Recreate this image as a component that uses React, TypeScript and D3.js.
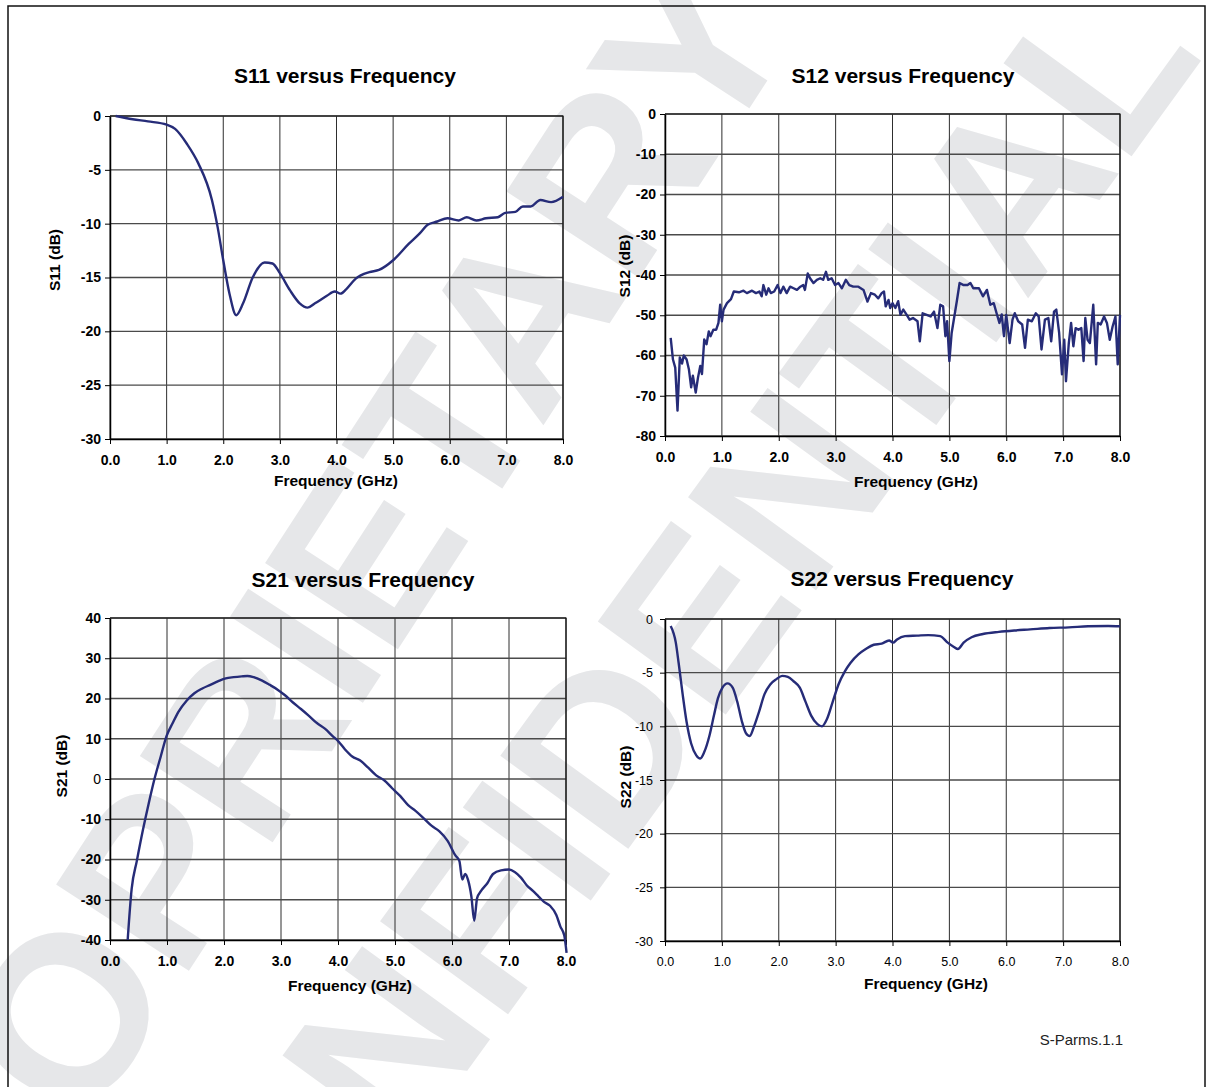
import React, { useEffect, useRef } from 'react';
import * as d3 from 'd3';

type Pt = [number, number]; // [GHz, dB]

// Tick values
const freqTicks = [0, 1, 2, 3, 4, 5, 6, 7, 8];
const s11Ticks = [0, -5, -10, -15, -20, -25, -30];
const s12Ticks = [0, -10, -20, -30, -40, -50, -60, -70, -80];
const s21Ticks = [40, 30, 20, 10, 0, -10, -20, -30, -40];
const s22Ticks = [0, -5, -10, -15, -20, -25, -30];

const s11Points: Pt[] = [
  [0.1, 0], [0.4, -0.3], [0.67, -0.5], [1.0, -0.8], [1.15, -1.2], [1.36, -2.6], [1.56, -4.4],
  [1.8, -7.8], [1.9, -10.3], [2.0, -13.4], [2.11, -16.5], [2.23, -18.5], [2.35, -17.4],
  [2.52, -15.0], [2.73, -13.6], [2.87, -13.7], [3.0, -14.6], [3.18, -16.2], [3.35, -17.4],
  [3.49, -17.8], [3.62, -17.4], [3.83, -16.7], [3.97, -16.3], [4.07, -16.5], [4.17, -16.1],
  [4.34, -15.1], [4.58, -14.5], [4.75, -14.3], [5.0, -13.4], [5.27, -11.9], [5.47, -10.9],
  [5.61, -10.1], [5.78, -9.8], [5.96, -9.5], [6.16, -9.7], [6.3, -9.4], [6.47, -9.7],
  [6.64, -9.5], [6.85, -9.4], [6.98, -9.0], [7.16, -8.9], [7.29, -8.4], [7.43, -8.4],
  [7.6, -7.8], [7.79, -8.0], [8.0, -7.5],
];

const s12Points: Pt[] = [
  [0.10, -55.6], [0.14, -61], [0.18, -63], [0.22, -73.7], [0.26, -60.5], [0.30, -62], [0.33, -60],
  [0.38, -61], [0.42, -63.4], [0.46, -67.9], [0.49, -65], [0.54, -69.2], [0.58, -65.5],
  [0.62, -62.6], [0.65, -64.6], [0.69, -56], [0.73, -57.2], [0.77, -54], [0.80, -55.2],
  [0.85, -53.6], [0.90, -53.6], [0.94, -51.9], [0.97, -47.4], [1.00, -51.5], [1.03, -48.6],
  [1.09, -47], [1.16, -46], [1.21, -44.1], [1.30, -44.3], [1.38, -43.9], [1.44, -44.5],
  [1.53, -43.9], [1.60, -44.5], [1.66, -44.1], [1.70, -45.3], [1.73, -42.5], [1.78, -44.9],
  [1.82, -43.3], [1.86, -44.5], [1.92, -44.1], [1.98, -42.5], [2.03, -44.5], [2.08, -42.9],
  [2.14, -44.5], [2.20, -42.9], [2.26, -43.3], [2.32, -43.7], [2.38, -42.9], [2.43, -42.5],
  [2.46, -43.7], [2.51, -39.6], [2.55, -40.8], [2.61, -42], [2.67, -41.2], [2.73, -40.8],
  [2.78, -41.2], [2.83, -39.2], [2.87, -41.2], [2.93, -40.8], [2.99, -42.5], [3.05, -42],
  [3.11, -43.3], [3.18, -41.2], [3.24, -42.5], [3.31, -42.9], [3.40, -42.9], [3.49, -43.7],
  [3.56, -46.6], [3.62, -44.5], [3.69, -44.9], [3.75, -45.8], [3.81, -44.5], [3.85, -44.1],
  [3.88, -47.8], [3.93, -46.2], [3.96, -48.2], [4.00, -47], [4.05, -48.2], [4.10, -46.5],
  [4.14, -49.9], [4.19, -48.6], [4.25, -49.9], [4.30, -51.1], [4.36, -50.7], [4.44, -51.5],
  [4.48, -56.5], [4.53, -49.5], [4.60, -49.9], [4.67, -50.3], [4.73, -49.1], [4.79, -53.2],
  [4.84, -47.4], [4.89, -47.8], [4.93, -55.2], [4.96, -51.5], [5.00, -61.4], [5.04, -54.4],
  [5.13, -46.6], [5.18, -42], [5.25, -42.5], [5.32, -42.5], [5.37, -42], [5.42, -43.3],
  [5.52, -43.3], [5.59, -45.3], [5.66, -43.7], [5.72, -47.4], [5.78, -47], [5.83, -49.5],
  [5.88, -51.9], [5.92, -49.8], [5.96, -55.2], [6.00, -49.9], [6.06, -56.9], [6.11, -51.1],
  [6.15, -49.5], [6.21, -51.5], [6.28, -52.3], [6.33, -58.1], [6.38, -51.1], [6.45, -51.5],
  [6.52, -49.5], [6.57, -50.3], [6.62, -58.5], [6.68, -51.1], [6.74, -50.7], [6.79, -56.5],
  [6.84, -49.1], [6.88, -48.6], [6.93, -54.4], [6.98, -64.7], [7.02, -56.1], [7.05, -66.4],
  [7.10, -56.9], [7.14, -51.9], [7.18, -57.7], [7.22, -53.2], [7.27, -53.6], [7.32, -53.2],
  [7.36, -61.4], [7.39, -50.7], [7.43, -56.1], [7.47, -56.9], [7.53, -47.4], [7.58, -62.2],
  [7.61, -51.9], [7.66, -52.3], [7.72, -50.3], [7.77, -51.9], [7.82, -56.1], [7.87, -52.8],
  [7.92, -50.3], [7.96, -62.2], [8.00, -49.9],
];

const s21Points: Pt[] = [
  [0.31, -40], [0.38, -27.3], [0.47, -20.4], [0.58, -12.5], [0.68, -6.0], [0.78, 0],
  [0.89, 5.6], [0.99, 10.6], [1.10, 13.9], [1.20, 16.7], [1.34, 19.4], [1.48, 21.3],
  [1.62, 22.5], [1.76, 23.4], [1.90, 24.3], [2.03, 25.0], [2.17, 25.3], [2.31, 25.5],
  [2.41, 25.6], [2.52, 25.3], [2.66, 24.5], [2.80, 23.4], [2.94, 22.2], [3.07, 20.8],
  [3.21, 19.0], [3.35, 17.4], [3.49, 15.7], [3.63, 13.9], [3.77, 12.5], [3.91, 10.6],
  [4.01, 9.3], [4.12, 7.4], [4.25, 5.6], [4.39, 4.6], [4.53, 2.8], [4.67, 0.9], [4.81, -0.3],
  [4.95, -2.3], [5.09, -4.2], [5.23, -6.5], [5.36, -7.9], [5.50, -9.7], [5.64, -11.6],
  [5.78, -13.0], [5.92, -15.3], [6.06, -19.0], [6.13, -20.4], [6.18, -25.0], [6.23, -23.6],
  [6.28, -25.0], [6.34, -29.2], [6.39, -35.2], [6.44, -29.6], [6.51, -27.8], [6.62, -25.9],
  [6.72, -23.6], [6.86, -22.7], [7.00, -22.5], [7.10, -23.1], [7.21, -24.5], [7.31, -26.4],
  [7.42, -27.8], [7.52, -29.2], [7.62, -30.6], [7.72, -31.5], [7.83, -33.8], [7.90, -36.6],
  [7.97, -38.9], [8.01, -43.2],
];

const s22Points: Pt[] = [
  [0.10, -0.65], [0.19, -2.2], [0.24, -4.1], [0.31, -7.0], [0.38, -9.6], [0.46, -11.6],
  [0.55, -12.7], [0.62, -13.0], [0.69, -12.4], [0.78, -10.9], [0.86, -9.0], [0.93, -7.4],
  [1.01, -6.4], [1.10, -6.0], [1.19, -6.4], [1.27, -7.7], [1.35, -9.5], [1.42, -10.6],
  [1.49, -10.9], [1.56, -10.1], [1.65, -8.7], [1.75, -7.0], [1.85, -6.1], [1.96, -5.6],
  [2.06, -5.3], [2.16, -5.4], [2.26, -5.8], [2.37, -6.4], [2.47, -7.7], [2.57, -9.0],
  [2.68, -9.8], [2.76, -10.0], [2.85, -9.3], [2.95, -7.7], [3.05, -6.1], [3.16, -4.9],
  [3.26, -4.1], [3.40, -3.3], [3.53, -2.8], [3.67, -2.4], [3.81, -2.3], [3.94, -2.0],
  [4.01, -2.2], [4.08, -1.9], [4.22, -1.6], [4.43, -1.55], [4.63, -1.5], [4.84, -1.6],
  [4.97, -2.2], [5.08, -2.6], [5.15, -2.8], [5.25, -2.2], [5.39, -1.7], [5.59, -1.4],
  [5.87, -1.2], [6.14, -1.07], [6.42, -0.97], [6.76, -0.84], [7.10, -0.78], [7.44, -0.68],
  [7.79, -0.65], [8.0, -0.68],
];

interface Panel {
  title: string;
  yLabel: string;
  points: Pt[];
  yTicks: number[];
  box: { left: number; right: number; top: number; bottom: number };
  titleAt: [number, number];
  xLabelAt: [number, number];
  yLabelAt: [number, number];
  smooth: boolean;
  tickFont: number;
  tickWeight: string;
}

const panels: Panel[] = [
  {
    title: 'S11 versus Frequency', yLabel: 'S11 (dB)', points: s11Points, yTicks: s11Ticks,
    box: { left: 110, right: 563, top: 116, bottom: 439 },
    titleAt: [345, 76], xLabelAt: [336, 481], yLabelAt: [55, 260],
    smooth: true, tickFont: 14, tickWeight: 'bold',
  },
  {
    title: 'S12 versus Frequency', yLabel: 'S12 (dB)', points: s12Points, yTicks: s12Ticks,
    box: { left: 665, right: 1120, top: 114, bottom: 436 },
    titleAt: [903, 76], xLabelAt: [916, 482], yLabelAt: [625, 266],
    smooth: false, tickFont: 14, tickWeight: 'bold',
  },
  {
    title: 'S21 versus Frequency', yLabel: 'S21 (dB)', points: s21Points, yTicks: s21Ticks,
    box: { left: 110, right: 566, top: 618, bottom: 940 },
    titleAt: [363, 580], xLabelAt: [350, 986], yLabelAt: [62, 766],
    smooth: true, tickFont: 14, tickWeight: 'bold',
  },
  {
    title: 'S22 versus Frequency', yLabel: 'S22 (dB)', points: s22Points, yTicks: s22Ticks,
    box: { left: 665, right: 1120, top: 619, bottom: 941 },
    titleAt: [902, 579], xLabelAt: [926, 984], yLabelAt: [626, 777],
    smooth: true, tickFont: 12.5, tickWeight: 'normal',
  },
];

const FONT = '"Liberation Sans", Arial, Helvetica, sans-serif';
const LINE_COLOR = '#262c78';

const App: React.FC = () => {
  const svgRef = useRef<SVGSVGElement>(null);

  useEffect(() => {
    if (!svgRef.current) return;
    const svg = d3.select(svgRef.current);
    svg.selectAll('*').remove();

    // Watermark
    const wm = svg
      .append('g')
      .attr('fill', '#e6e7e9')
      .style('font-family', FONT)
      .style('font-weight', 'bold')
      .style('font-size', '230px');
    wm.append('text')
      .attr('transform', 'translate(800,30) rotate(-57)')
      .attr('text-anchor', 'end')
      .text('PROPRIETARY');
    wm.append('text')
      .attr('transform', 'translate(1205,55) rotate(-54)')
      .attr('text-anchor', 'end')
      .text('CONFIDENTIAL');

    // Page frame
    svg
      .append('rect')
      .attr('x', 8)
      .attr('y', 6)
      .attr('width', 1197)
      .attr('height', 1120)
      .attr('fill', 'none')
      .attr('stroke', '#111')
      .attr('stroke-width', 1.5);

    panels.forEach(p => {
      const { left, right, top, bottom } = p.box;
      const yExtent = d3.extent(p.yTicks) as [number, number];
      const x = d3.scaleLinear().domain([0, 8]).range([left, right]);
      const y = d3.scaleLinear().domain(yExtent).range([bottom, top]);
      const g = svg.append('g');

      // Grid lines
      g.append('g')
        .selectAll('line')
        .data(freqTicks)
        .join('line')
        .attr('x1', d => x(d))
        .attr('x2', d => x(d))
        .attr('y1', top)
        .attr('y2', bottom)
        .attr('stroke', '#2e2e2e')
        .attr('stroke-width', 1);

      g.append('g')
        .selectAll('line')
        .data(p.yTicks)
        .join('line')
        .attr('x1', left)
        .attr('x2', right)
        .attr('y1', d => y(d))
        .attr('y2', d => y(d))
        .attr('stroke', '#4a4a4a')
        .attr('stroke-width', 1.3);

      // X axis
      const xAxis = g
        .append('g')
        .attr('transform', `translate(0,${bottom})`)
        .call(
          d3
            .axisBottom(x)
            .tickValues(freqTicks)
            .tickSize(5)
            .tickSizeOuter(0)
            .tickPadding(11)
            .tickFormat(d => d3.format('.1f')(d as number))
        );
      xAxis.select('.domain').attr('stroke', '#000').attr('stroke-width', 1.5);
      xAxis.selectAll('line').attr('stroke', '#000');
      xAxis
        .selectAll('text')
        .attr('fill', '#000')
        .style('font-family', FONT)
        .style('font-size', `${p.tickFont}px`)
        .style('font-weight', p.tickWeight);

      // Y axis
      const yAxis = g
        .append('g')
        .attr('transform', `translate(${left},0)`)
        .call(
          d3
            .axisLeft(y)
            .tickValues(p.yTicks)
            .tickSize(5)
            .tickSizeOuter(0)
            .tickPadding(p.tickWeight === 'bold' ? 4 : 7)
            .tickFormat(d => String(d))
        );
      yAxis.select('.domain').attr('stroke', '#000').attr('stroke-width', 1.5);
      yAxis.selectAll('line').attr('stroke', '#000');
      yAxis
        .selectAll<SVGTextElement, number>('text')
        .attr('fill', '#000')
        .style('font-family', FONT)
        .style('font-size', `${p.tickFont}px`)
        .style('font-weight', d => (d === 0 && p.yLabel.startsWith('S21') ? 'normal' : p.tickWeight));

      // Top / right frame
      g.append('path')
        .attr('d', `M${left},${top}H${right}V${bottom}`)
        .attr('fill', 'none')
        .attr('stroke', '#111')
        .attr('stroke-width', 1.2);

      // Trace
      const line = d3
        .line<Pt>()
        .x(d => x(d[0]))
        .y(d => y(d[1]))
        .curve(p.smooth ? d3.curveMonotoneX : d3.curveLinear);

      g.append('path')
        .datum(p.points)
        .attr('fill', 'none')
        .attr('stroke', LINE_COLOR)
        .attr('stroke-width', 2.4)
        .attr('stroke-linejoin', 'round')
        .attr('d', line);

      // Titles
      g.append('text')
        .attr('x', p.titleAt[0])
        .attr('y', p.titleAt[1])
        .attr('dy', '0.35em')
        .attr('text-anchor', 'middle')
        .style('font-family', FONT)
        .style('font-size', '21px')
        .style('font-weight', 'bold')
        .text(p.title);

      g.append('text')
        .attr('x', p.xLabelAt[0])
        .attr('y', p.xLabelAt[1])
        .attr('dy', '0.35em')
        .attr('text-anchor', 'middle')
        .style('font-family', FONT)
        .style('font-size', '15.5px')
        .style('font-weight', 'bold')
        .text('Frequency (GHz)');

      g.append('text')
        .attr('transform', `translate(${p.yLabelAt[0]},${p.yLabelAt[1]}) rotate(-90)`)
        .attr('dy', '0.35em')
        .attr('text-anchor', 'middle')
        .style('font-family', FONT)
        .style('font-size', '15.5px')
        .style('font-weight', 'bold')
        .text(p.yLabel);
    });

    svg
      .append('text')
      .attr('x', 1123)
      .attr('y', 1040)
      .attr('dy', '0.35em')
      .attr('text-anchor', 'end')
      .style('font-family', FONT)
      .style('font-size', '15px')
      .attr('fill', '#222')
      .text('S-Parms.1.1');
  }, []);

  return (
    <svg
      ref={svgRef}
      width={1213}
      height={1087}
      style={{ position: 'absolute', left: 0, top: 0, background: '#fff', display: 'block' }}
    />
  );
};

export default App;
